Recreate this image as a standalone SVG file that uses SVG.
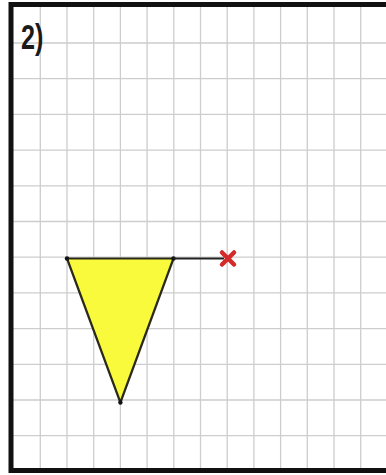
<svg xmlns="http://www.w3.org/2000/svg" width="386" height="475" viewBox="0 0 386 475">
<style>
.grid line{stroke:#cdcdcd;stroke-width:1.3}
.border{fill:none;stroke:#111;stroke-width:5}
.lbl{font-family:"Liberation Sans",Arial,sans-serif;font-weight:bold;font-size:35px;fill:#1a1a1a}
.tri{fill:#fafa3c;stroke:#2a2a1a;stroke-width:2.2;stroke-linejoin:round}
.seg{stroke:#222;stroke-width:2.2}
.x{stroke:#d42a2a;stroke-width:4.5;stroke-linecap:round}
.pt{fill:#111}
</style>
<rect x="0" y="0" width="386" height="475" fill="#ffffff"/>
<g id="grid" class="grid">
<line x1="40.3" y1="5" x2="40.3" y2="470"/>
<line x1="67" y1="5" x2="67" y2="470"/>
<line x1="93.7" y1="5" x2="93.7" y2="470"/>
<line x1="120.4" y1="5" x2="120.4" y2="470"/>
<line x1="147.1" y1="5" x2="147.1" y2="470"/>
<line x1="173.8" y1="5" x2="173.8" y2="470"/>
<line x1="200.5" y1="5" x2="200.5" y2="470"/>
<line x1="227.2" y1="5" x2="227.2" y2="470"/>
<line x1="253.9" y1="5" x2="253.9" y2="470"/>
<line x1="280.6" y1="5" x2="280.6" y2="470"/>
<line x1="307.3" y1="5" x2="307.3" y2="470"/>
<line x1="334" y1="5" x2="334" y2="470"/>
<line x1="360.7" y1="5" x2="360.7" y2="470"/>
<line x1="11" y1="43" x2="386" y2="43"/>
<line x1="11" y1="78.7" x2="386" y2="78.7"/>
<line x1="11" y1="114.4" x2="386" y2="114.4"/>
<line x1="11" y1="150.1" x2="386" y2="150.1"/>
<line x1="11" y1="185.8" x2="386" y2="185.8"/>
<line x1="11" y1="221.5" x2="386" y2="221.5"/>
<line x1="11" y1="257.2" x2="386" y2="257.2"/>
<line x1="11" y1="292.9" x2="386" y2="292.9"/>
<line x1="11" y1="328.6" x2="386" y2="328.6"/>
<line x1="11" y1="364.3" x2="386" y2="364.3"/>
<line x1="11" y1="400" x2="386" y2="400"/>
<line x1="11" y1="435.7" x2="386" y2="435.7"/>
</g>
<path class="border" d="M388,4.5 H11 V470.5 H388"/>
<text class="lbl" transform="translate(21,49) scale(0.72,1)">2)</text>
<g id="triangle">
<polygon class="tri" points="67,258.5 173.5,258.5 120.4,402.5"/>
<circle class="pt" cx="67" cy="258.5" r="2.2"/>
<circle class="pt" cx="173.5" cy="258.5" r="2.2"/>
<circle class="pt" cx="120.4" cy="402.5" r="2.2"/>
</g>
<g id="connectors">
<line class="seg" x1="173.5" y1="258.5" x2="224" y2="258.5"/>
</g>
<g id="marker-x">
<line class="x" x1="222" y1="252.5" x2="234" y2="264.5"/>
<line class="x" x1="234" y1="252.5" x2="222" y2="264.5"/>
</g>
</svg>
